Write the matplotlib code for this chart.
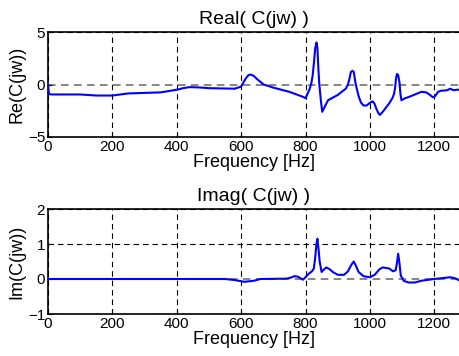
import matplotlib.pyplot as plt

plt.rcParams["font.family"] = ["Liberation Sans", "DejaVu Sans"]

# Real part
freq_re = [0, 3, 10, 100, 150, 200, 250, 300, 350, 400, 420, 440, 470, 500, 580, 600,
           607, 615, 623, 630, 640, 650, 670, 700, 750, 790, 800, 806, 812, 818, 822,
           826, 830, 834, 837, 840, 843, 848, 852, 860, 870, 900, 925, 932, 937, 941,
           946, 950, 955, 960, 965, 972, 980, 990, 1000, 1008, 1014, 1020, 1026, 1031,
           1040, 1050, 1060, 1070, 1075, 1078, 1081, 1084, 1088, 1092, 1095, 1098, 1110,
           1120, 1140, 1160, 1175, 1185, 1195, 1200, 1205, 1212, 1220, 1240, 1250, 1260,
           1270, 1280]
re_vals = [0.0, -0.9, -0.95, -0.95, -1.05, -1.05, -0.85, -0.8, -0.75, -0.5, -0.35, -0.25,
           -0.28, -0.35, -0.4, -0.2, 0.2, 0.6, 0.9, 0.95, 0.8, 0.5, 0.0, -0.3, -0.7, -1.15,
           -1.3, -0.9, -0.5, 0.1, 0.8, 2.0, 3.4, 4.0, 3.5, 1.5, 0.0, -1.6, -2.6, -2.1,
           -1.5, -1.0, -0.4, 0.0, 0.6, 1.2, 1.3, 1.2, 0.2, -0.5, -1.1, -1.7, -2.0, -2.0,
           -1.75, -1.6, -1.8, -2.3, -2.7, -2.9, -2.6, -2.2, -1.8, -1.3, -0.9, -0.4, 0.5,
           1.0, 0.9, 0.2, -0.9, -1.5, -1.3, -1.2, -0.95, -0.7, -0.75, -0.95, -1.2, -1.2,
           -1.0, -0.7, -0.6, -0.55, -0.4, -0.55, -0.5, -0.5]

# Imaginary part
freq_im = [0, 550, 580, 610, 640, 660, 740, 755, 765, 775, 785, 792, 800, 810, 820, 826,
           830, 834, 837, 840, 844, 850, 858, 865, 875, 885, 900, 920, 932, 942, 950, 958,
           965, 980, 1000, 1015, 1030, 1040, 1060, 1072, 1080, 1084, 1088, 1092, 1096,
           1105, 1120, 1140, 1160, 1200, 1220, 1250, 1265, 1280]
im_vals = [0.0, 0.0, -0.03, -0.08, -0.05, 0.0, 0.01, 0.04, 0.08, 0.07, 0.02, -0.02, 0.05,
           0.15, 0.22, 0.3, 0.6, 1.0, 1.15, 0.9, 0.5, 0.2, 0.28, 0.33, 0.28, 0.2, 0.12,
           0.12, 0.22, 0.4, 0.5, 0.35, 0.2, 0.08, 0.05, 0.12, 0.28, 0.33, 0.3, 0.22, 0.25,
           0.45, 0.72, 0.45, 0.1, -0.05, -0.1, -0.1, -0.05, 0.0, 0.02, 0.05, 0.02, -0.05]

x_ticks = [0, 200, 400, 600, 800, 1000, 1200]

fig = plt.figure(figsize=(4.6, 3.56), dpi=100)
ax1 = fig.add_axes([48/460, 1 - 137/356, 412/460, 105/356])
ax2 = fig.add_axes([48/460, 1 - 314/356, 412/460, 105/356])

panels = [
    (ax1, freq_re, re_vals, "Real( C(jw) )", "Re(C(jw))", [-5, 0, 5], (-5, 5)),
    (ax2, freq_im, im_vals, "Imag( C(jw) )", "Im(C(jw))", [-1, 0, 1, 2], (-1, 2)),
]

for ax, xs, ys, title, ylabel, yticks, ylim in panels:
    ax.plot(xs, ys, color="#0000ff", lw=1.5, zorder=3)
    ax.set_xlim(0, 1280)
    ax.set_ylim(*ylim)
    ax.set_xticks(x_ticks)
    ax.set_yticks(yticks)
    ax.grid(True, color="black", linestyle=(0, (5, 3.5)), lw=0.8)
    # zero line looks grey in the original
    for loc, gl in zip(ax.get_yticks(), ax.yaxis.get_gridlines()):
        if loc == 0:
            gl.set_color("#666666")
            gl.set_linewidth(1.1)
    ax.tick_params(direction="in", length=3, labelsize=11, pad=2)
    ax.set_title(title, fontsize=14, pad=6)
    ax.set_xlabel("Frequency [Hz]", fontsize=13, labelpad=0)
    ax.set_ylabel(ylabel, fontsize=13, labelpad=2)
    for sp in ax.spines.values():
        sp.set_linewidth(1.2)

fig.savefig("out.png", dpi=100)
